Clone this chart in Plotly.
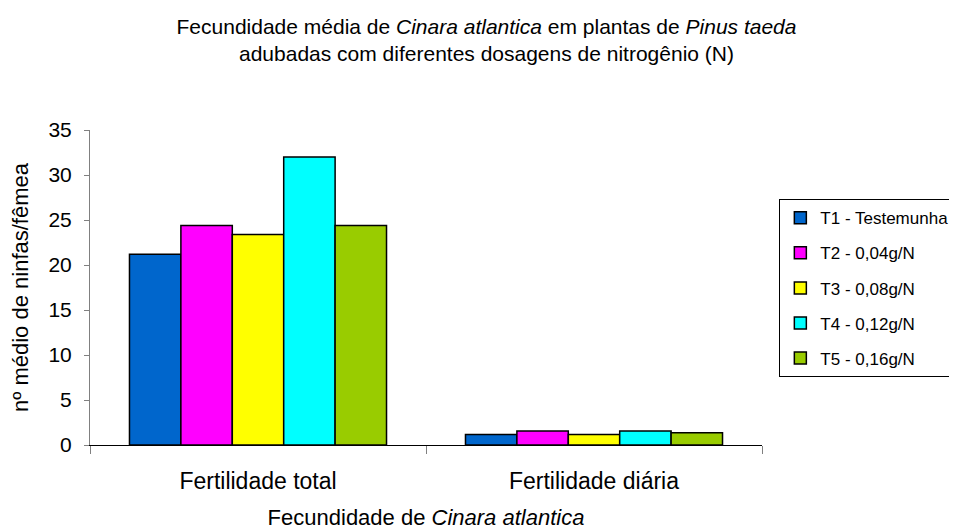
import plotly.graph_objects as go

# data
categories = ["Fertilidade total", "Fertilidade diária"]
treatments = ["T1 - Testemunha", "T2 - 0,04g/N", "T3 - 0,08g/N", "T4 - 0,12g/N", "T5 - 0,16g/N"]
t1 = [21.2, 1.18]
t2 = [24.4, 1.55]
t3 = [23.4, 1.18]
t4 = [32.0, 1.55]
t5 = [24.4, 1.37]
colors = ["#0066CC", "#FF00FF", "#FFFF00", "#00FFFF", "#99CC00"]

series = [t1, t2, t3, t4, t5]

fig = go.Figure()

for i, name in enumerate(treatments):
    fig.add_trace(go.Bar(
        x = categories,
        y = series[i],
        name = name,
        legendgroup = name,
        marker = dict(color = colors[i], line = dict(color = "black", width = 1.5)))
    )

fig.update_layout(
    width = 957,
    height = 531,
    font = dict(family = "Liberation Sans, Arial", size = 20, color = "black"),
    plot_bgcolor = "white",
    paper_bgcolor = "white",
    barmode = "group",
    bargap = 0.235,
    bargroupgap = 0,
    margin = dict(l = 82, r = 203, t = 122, b = 94),
    title = dict(
        text = "Fecundidade média de <i>Cinara atlantica</i> em plantas de <i>Pinus taeda</i>"
               "<br>adubadas com diferentes dosagens de nitrogênio (N)",
        x = 0.5,
        xanchor = "center",
        y = 0.951,
        yanchor = "top",
        font = dict(size = 21)),
    legend = dict(
        xref = "container",
        yref = "container",
        x = 0.806,
        xanchor = "left",
        y = 0.64,
        yanchor = "top",
        font = dict(size = 17),
        bordercolor = "black",
        borderwidth = 1,
        traceorder = "grouped",
        tracegroupgap = 10)
)

fig.update_xaxes(
    title = dict(text = "Fecundidade de <i>Cinara atlantica</i>", standoff = 17, font = dict(size = 22)),
    automargin = False,
    showline = True,
    linecolor = "black",
    linewidth = 1,
    ticks = "outside",
    tickson = "boundaries",
    ticklen = 8,
    tickcolor = "gray",
    ticklabelstandoff = 15,
    tickfont = dict(size = 23),
    showgrid = False)

fig.update_yaxes(
    title = dict(text = "nº médio de ninfas/fêmea", standoff = 14, font = dict(size = 22)),
    automargin = False,
    range = [0, 35],
    dtick = 5,
    showline = True,
    linecolor = "gray",
    linewidth = 1,
    ticks = "outside",
    ticklen = 5,
    tickcolor = "gray",
    ticklabelstandoff = 8,
    showgrid = False,
    zeroline = False,
    tickfont = dict(size = 21))

fig.write_html("out.html")
